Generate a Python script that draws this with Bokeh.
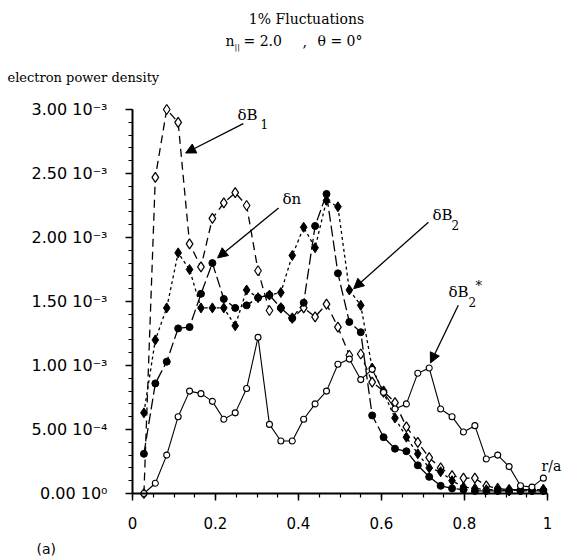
from bokeh.plotting import figure
from bokeh.models import Range1d, SingleIntervalTicker, Label, Arrow, NormalHead
from bokeh.embed import file_html
from bokeh.resources import INLINE

# radial grid r/a shared by all curves
r = [0.0275, 0.055, 0.0825, 0.11, 0.1375, 0.165, 0.1925, 0.22, 0.2475, 0.275,
     0.3025, 0.33, 0.3575, 0.385, 0.4125, 0.44, 0.4675, 0.495, 0.5225, 0.55,
     0.5775, 0.605, 0.6325, 0.66, 0.6875, 0.715, 0.7425, 0.77, 0.7975, 0.825,
     0.8525, 0.88, 0.9075, 0.935, 0.9625, 0.99]

# electron power density, in units of 1e-3
dB1 = [0.00, 2.47, 3.00, 2.90, 1.95, 1.77, 2.15, 2.27, 2.35, 2.25,
       1.74, 1.43, 1.45, 1.37, 1.45, 1.38, 1.48, 1.30, 1.08, 1.09,
       0.87, 0.80, 0.71, 0.52, 0.40, 0.28, 0.20, 0.14, 0.12, 0.12,
       0.06, 0.04, 0.03, 0.03, 0.03, 0.03]
dn = [0.31, 0.86, 1.03, 1.29, 1.30, 1.56, 1.80, 1.52, 1.45, 1.47,
      1.53, 1.55, 1.45, 1.37, 1.49, 2.09, 2.34, 1.72, 1.34, 1.26,
      0.61, 0.44, 0.35, 0.33, 0.22, 0.13, 0.06, 0.04, 0.03, 0.02,
      0.02, 0.02, 0.02, 0.02, 0.02, 0.02]
dB2 = [0.63, 1.20, 1.45, 1.88, 1.75, 1.45, 1.45, 1.45, 1.31, 1.59,
       1.53, 1.55, 1.57, 1.86, 2.08, 1.92, 2.29, 2.24, 1.59, 1.47,
       0.98, 0.79, 0.59, 0.44, 0.31, 0.20, 0.17, 0.10, 0.05, 0.04,
       0.03, 0.03, 0.02, 0.03, 0.03, 0.03]
dB2s = [0.00, 0.08, 0.30, 0.60, 0.80, 0.78, 0.72, 0.58, 0.63, 0.82,
        1.22, 0.54, 0.41, 0.41, 0.58, 0.70, 0.80, 1.01, 1.05, 0.89,
        0.97, 0.79, 0.66, 0.70, 0.94, 0.98, 0.66, 0.60, 0.48, 0.53,
        0.27, 0.30, 0.21, 0.06, 0.05, 0.12]

y_tick_labels = {0: "0.00 10\u2070", 0.5: "5.00 10\u207b\u2074", 1: "1.00 10\u207b\u00b3",
                 1.5: "1.50 10\u207b\u00b3", 2: "2.00 10\u207b\u00b3",
                 2.5: "2.50 10\u207b\u00b3", 3: "3.00 10\u207b\u00b3"}
x_tick_labels = {0: "0", 0.2: "0.2", 0.4: "0.4", 0.6: "0.6", 0.8: "0.8", 1: "1"}

SERIF = "DejaVu Serif"
SANS = "DejaVu Sans"

# page geometry: r/a = 0 at x=132 px, r/a = 1 at x=547 px; 0 at y=493 px, 3e-3 at y=109 px
X0, XS = 132.0, 415.0
Y0, YS = 493.0, 128.0
W, H = 572, 559

p = figure(width=W, height=H,
           x_range=Range1d((0 - X0) / XS, (W - X0) / XS),
           y_range=Range1d((Y0 - H) / YS, (Y0 - 0) / YS),
           output_backend="svg", toolbar_location=None,
           min_border_left=0, min_border_right=0, min_border_top=0, min_border_bottom=0)
p.outline_line_color = None
p.grid.visible = False
p.background_fill_color = "white"
p.border_fill_color = "white"

# axes fixed at the origin, limited to the drawn extent
p.xaxis.ticker = SingleIntervalTicker(interval=0.2, num_minor_ticks=4)
p.xaxis.major_label_overrides = x_tick_labels
p.xaxis.fixed_location = 0
p.xaxis.bounds = (0, 1)
p.yaxis.ticker = SingleIntervalTicker(interval=0.5, num_minor_ticks=5)
p.yaxis.major_label_overrides = y_tick_labels
p.yaxis.fixed_location = 0
p.yaxis.bounds = (0, 3)
for ax in (p.xaxis, p.yaxis):
    ax.axis_line_width = 2
    ax.axis_line_color = "black"
    ax.major_tick_line_color = "black"
    ax.minor_tick_line_color = "black"
    ax.major_tick_line_width = 1.5
    ax.minor_tick_line_width = 1.2
    ax.major_tick_in = 0
    ax.minor_tick_in = 0
    ax.major_tick_out = 7
    ax.minor_tick_out = 4
    ax.major_label_text_font = SANS
    ax.major_label_text_color = "black"
p.yaxis.major_label_text_font_size = "16px"
p.xaxis.major_label_text_font_size = "15px"
p.yaxis.major_label_standoff = 18
p.xaxis.major_label_standoff = 16

# curves
p.line(r, dB1, line_color="black", line_width=1.3, line_dash="8 5")
p.line(r, dn, line_color="black", line_width=1.3, line_dash="11 4")
p.line(r, dB2, line_color="black", line_width=1.3, line_dash="3 3")
p.line(r, dB2s, line_color="black", line_width=1.1)

p.scatter(r, dB1, marker="diamond", size=10, fill_color="white", line_color="black", line_width=1.2)
p.scatter(r, dn, marker="circle", size=7, fill_color="black", line_color="black")
p.scatter(r, dB2, marker="diamond", size=10, fill_color="black", line_color="black")
p.scatter(r, dB2s, marker="circle", size=6, fill_color="white", line_color="black", line_width=1.1)


def lab_px(px, py, text, size="14px", align="left", font=SERIF):
    # page-pixel placement converted to data units
    p.add_layout(Label(x=(px - X0) / XS, y=(Y0 - py) / YS, text=text, text_font=font,
                       text_font_size=size, text_align=align, text_baseline="middle",
                       text_color="black"))


# titles and outside texts
lab_px(306, 18, "1% Fluctuations", size="14px", align="center")
lab_px(234, 40, "n", size="14px", align="right")
lab_px(234, 47, "||", size="8px")
lab_px(243, 40, "= 2.0", size="14px")
lab_px(302, 41, ",", size="14px")
lab_px(317, 40, "\u03b8 = 0\u00b0", size="14px")
lab_px(7, 77, "electron power density", size="13px")
lab_px(36, 548, "(a)", size="14px", font=SANS)
lab_px(541, 465, "r/a", size="14px")

# curve labels
lab_px(237, 114, "\u03b4B", size="15px")
lab_px(260, 123, "1", size="12px")
lab_px(282, 198, "\u03b4n", size="15px")
lab_px(432, 214, "\u03b4B", size="15px")
lab_px(451, 224, "2", size="12px")
lab_px(448, 291, "\u03b4B", size="15px")
lab_px(468, 301, "2", size="12px")
lab_px(475, 285, "*", size="13px")

# arrows pointing at curves (start, end in data units)
arrows = [
    (0.267, 2.89, 0.128, 2.66),   # dB1
    (0.352, 2.23, 0.205, 1.84),   # dn
    (0.713, 2.12, 0.533, 1.60),   # dB2
    (0.785, 1.47, 0.718, 1.02),   # dB2*
]
for xs, ys, xe, ye in arrows:
    p.add_layout(Arrow(end=NormalHead(size=10, fill_color="black", line_color="black"),
                       x_start=xs, y_start=ys, x_end=xe, y_end=ye,
                       line_color="black", line_width=1.3))

open("out.html", "w").write(file_html(p, INLINE))
